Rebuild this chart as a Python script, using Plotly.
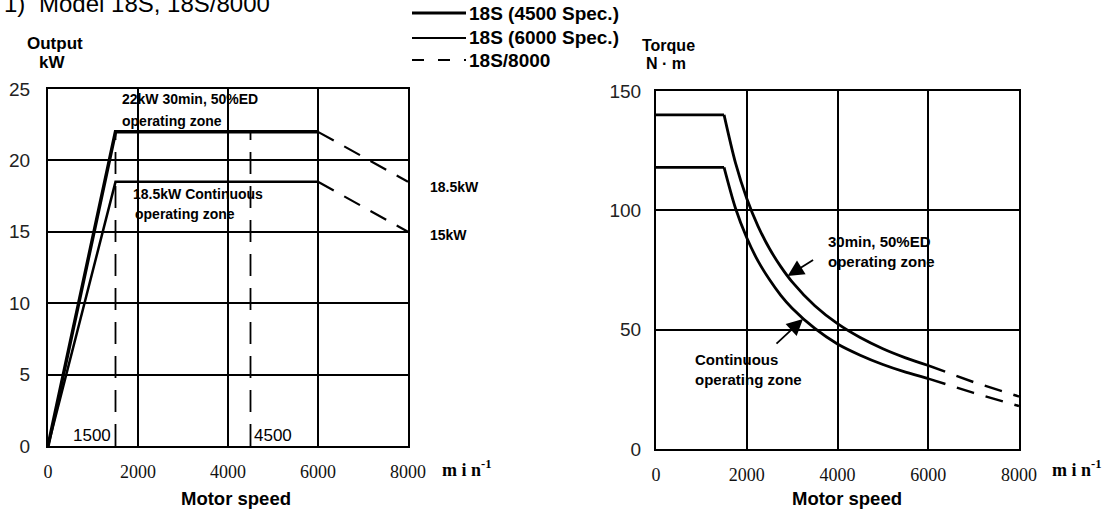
import plotly.graph_objects as go

# ---------------- data ----------------
speed_ticks = [0, 2000, 4000, 6000, 8000]
output_ticks = [0, 5, 10, 15, 20, 25]
torque_ticks = [0, 50, 100, 150]

# Output (kW) vs motor speed
out_speed_solid = [0, 1500, 6000]
out_30min_solid = [0, 22, 22]
out_cont_solid = [0, 18.5, 18.5]
out_speed_ext = [6000, 8000]
out_30min_ext = [22, 18.5]
out_cont_ext = [18.5, 15]
ref_speeds = [1500, 4500]
ref_labels = ["1500", "4500"]
ref_top = 22

# Torque (N·m) vs motor speed
tq_speed = [0, 1500, 1750, 2000, 2250, 2500, 2750, 3000, 3500, 4000, 4500, 5000, 5500, 6000]
tq_30min = [140, 140, 120, 105, 93.3, 84, 76.4, 70, 60, 52.5, 46.7, 42, 38.2, 35]
tq_cont = [118, 118, 101, 88.5, 78.7, 71, 64.4, 59, 50.5, 44, 39.3, 35.4, 32.2, 29.5]
tq_speed_ext = [6000, 7000, 8000]
tq_30min_ext = [35, 28, 22]
tq_cont_ext = [29.5, 23.5, 18]

# ---------------- layout helpers ----------------
W, H = 1115, 514
def px(x): return x / W
def py(y): return 1 - y / H

SANS = "Liberation Sans, Arial, sans-serif"
SERIF = "Liberation Serif, Times New Roman, serif"
DASH = "18px,12px"

fig = go.Figure()

def line(x, y, width, ax="", dash=None, shape="linear"):
    fig.add_trace(go.Scatter(
        x=x, y=y, mode="lines", showlegend=False, hoverinfo="skip",
        line=dict(color="black", width=width, dash=dash, shape=shape, smoothing=0.8),
        xaxis="x" + ax, yaxis="y" + ax, cliponaxis=False))

# left chart
line(out_speed_solid, out_30min_solid, 3.5)
line(out_speed_solid, out_cont_solid, 2.5)
line(out_speed_ext, out_30min_ext, 2.2, dash=DASH)
line(out_speed_ext, out_cont_ext, 2.2, dash=DASH)
for s in ref_speeds:
    line([s, s], [0, ref_top], 1.8, dash="22px,12px")

# right chart
line(tq_speed[:2], tq_30min[:2], 2.8, "2")
line(tq_speed[1:], tq_30min[1:], 2.8, "2", shape="spline")
line(tq_speed[:2], tq_cont[:2], 2.8, "2")
line(tq_speed[1:], tq_cont[1:], 2.8, "2", shape="spline")
line(tq_speed_ext, tq_30min_ext, 2.5, "2", dash=DASH)
line(tq_speed_ext, tq_cont_ext, 2.5, "2", dash=DASH)

axis_common = dict(showline=True, mirror=True, linecolor="black", linewidth=2,
                   showgrid=True, gridcolor="black", gridwidth=1.5, zeroline=False,
                   ticks="", tickmode="array", automargin=False)
xfont = dict(family=SERIF, size=18, color="#111")
yfont = dict(family=SANS, size=19, color="#222")

fig.update_layout(
    width=W, height=H, autosize=False,
    margin=dict(l=0, r=0, t=0, b=0, autoexpand=False),
    paper_bgcolor="white", plot_bgcolor="white",
    xaxis=dict(axis_common, domain=[px(48), px(408)], range=[0, 8000],
               tickvals=speed_ticks, tickfont=xfont, ticklabelstandoff=8, anchor="y"),
    yaxis=dict(axis_common, domain=[py(446), py(89)], range=[0, 25],
               tickvals=output_ticks, tickfont=yfont, ticklabelstandoff=12, anchor="x"),
    xaxis2=dict(axis_common, domain=[px(656), px(1019)], range=[0, 8000],
                tickvals=speed_ticks, tickfont=xfont, ticklabelstandoff=8, anchor="y2"),
    yaxis2=dict(axis_common, domain=[py(449), py(91)], range=[0, 150],
                tickvals=torque_ticks, tickfont=yfont, ticklabelstandoff=9, anchor="x2"),
)

anns = []
def ann(text, x, y, size, weight="normal", xanchor="left", family=SANS, **kw):
    anns.append(dict(text=text, x=px(x), y=py(y), xref="paper", yref="paper",
                     xanchor=xanchor, yanchor="middle", showarrow=False,
                     font=dict(family=family, size=size, color="black", weight=weight), **kw))

# title (cropped at top)
ann("1)", 2, 4, 24)
ann("Model 18S, 18S/8000", 37, 4, 24)

# axis titles
ann("Output", 55, 43, 17, weight="bold", xanchor="center")
ann("kW", 52, 62, 17, weight="bold", xanchor="center")
ann("Torque", 668, 45, 16, weight="bold", xanchor="center")
ann("N · m", 666, 63, 16, weight="bold", xanchor="center")
ann("Motor speed", 236, 498, 18.5, weight="bold", xanchor="center")
ann("Motor speed", 847, 498, 18.5, weight="bold", xanchor="center")
ann("m i n<sup>-1</sup>", 440, 468, 18, family=SERIF, weight="bold")
ann("m i n<sup>-1</sup>", 1050, 468, 18, family=SERIF, weight="bold")

# left chart notes
ann("22kW 30min, 50%ED", 120, 99, 14, weight="bold")
ann("operating zone", 120, 121, 14, weight="bold")
ann("18.5kW Continuous", 131, 194, 14, weight="bold")
ann("operating zone", 133, 214, 14, weight="bold")
ann("18.5kW", 428, 187, 14, weight="bold")
ann("15kW", 428, 235, 14, weight="bold")
ann(ref_labels[0], 113, 435, 17, xanchor="right")
ann(ref_labels[1], 252, 435, 17)

# right chart notes
ann("30min, 50%ED", 826, 241, 15, weight="bold")
ann("operating zone", 826, 261, 15, weight="bold")
ann("Continuous", 693, 359, 15, weight="bold")
ann("operating zone", 693, 379, 15, weight="bold")

# arrows
anns.append(dict(x=2900, y=72.5, xref="x2", yref="y2", ax=27, ay=-17, text="",
                 showarrow=True, arrowhead=2, arrowsize=1.8, arrowwidth=1.8, arrowcolor="black"))
anns.append(dict(x=3240, y=54.5, xref="x2", yref="y2", ax=-28, ay=26, text="",
                 showarrow=True, arrowhead=2, arrowsize=1.8, arrowwidth=1.8, arrowcolor="black"))

# legend (manual)
leg_rows = [("18S (4500 Spec.)", 13, 3.2, None),
            ("18S (6000 Spec.)", 38, 2.2, None),
            ("18S/8000", 60, 2.2, "12px,14px")]
shapes = []
for name, yy, wdt, dsh in leg_rows:
    shapes.append(dict(type="line", xref="paper", yref="paper",
                       x0=px(412), x1=px(466), y0=py(yy), y1=py(yy),
                       line=dict(color="black", width=wdt, dash=dsh)))
    ann(name, 467, yy, 19, weight="bold")

fig.update_layout(annotations=anns, shapes=shapes)
fig.write_html("out.html")
